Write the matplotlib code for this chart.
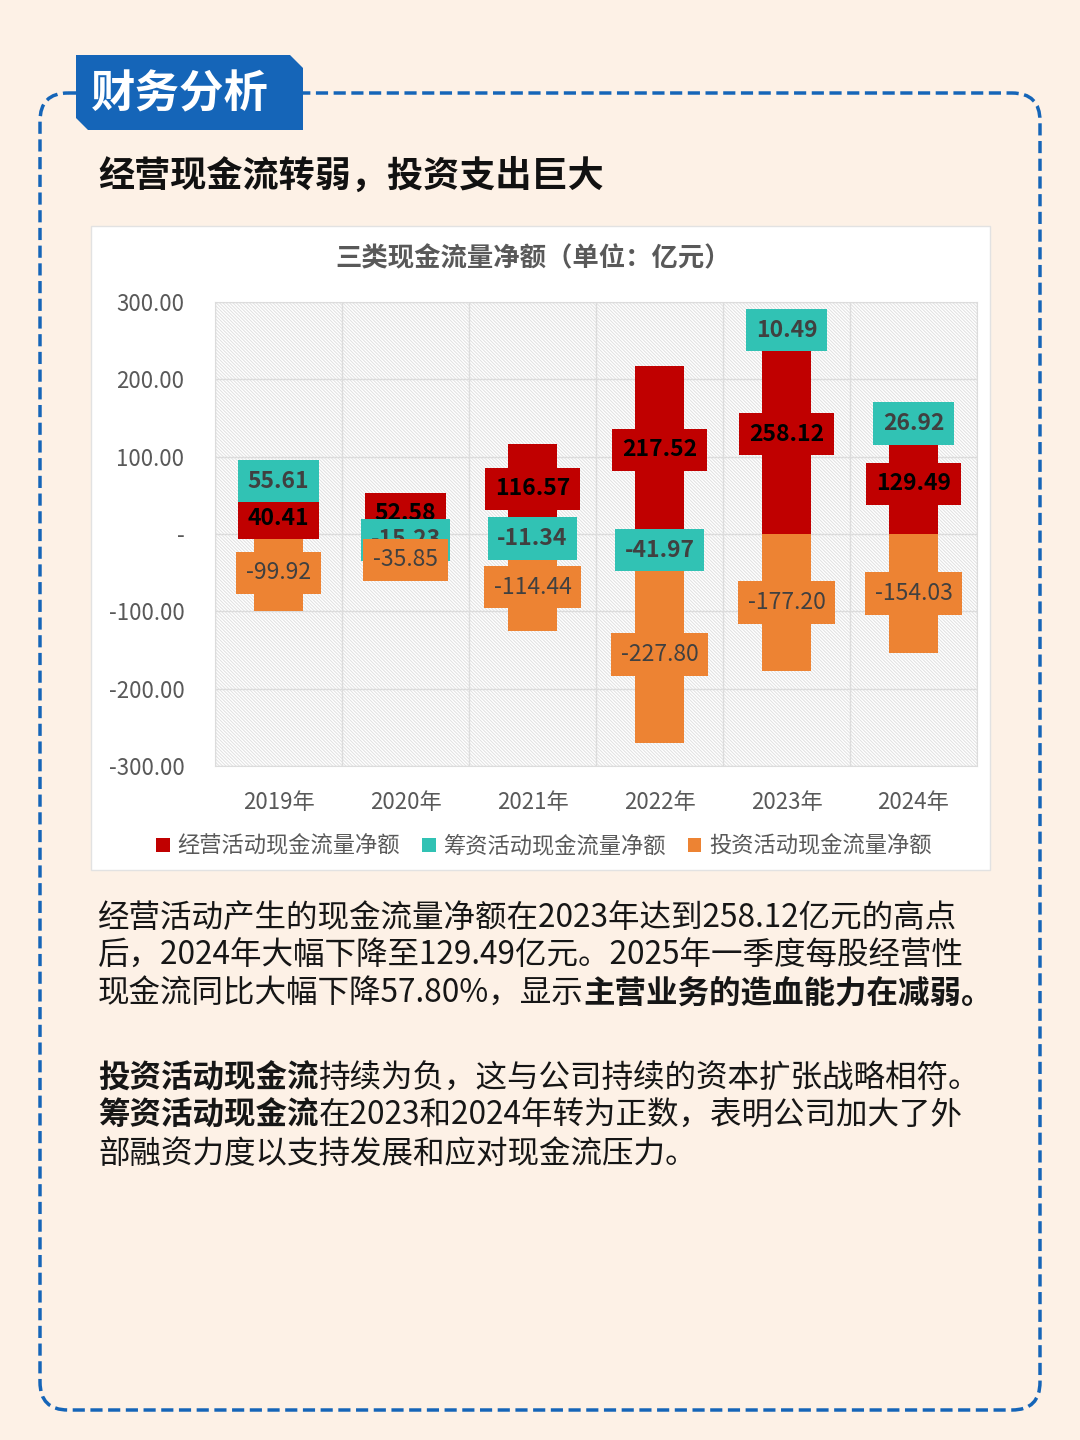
import matplotlib
matplotlib.use("Agg")
import matplotlib.pyplot as plt
import numpy as np
from matplotlib.patches import Rectangle, FancyBboxPatch, Polygon, Patch
from matplotlib.ticker import FuncFormatter, MultipleLocator

plt.rcParams["font.family"] = ["Noto Sans CJK SC", "DejaVu Sans"]
plt.rcParams["hatch.linewidth"] = 0.7

YEARS = ["2019年", "2020年", "2021年", "2022年", "2023年", "2024年"]
OPERATING = [40.41, 52.58, 116.57, 217.52, 258.12, 129.49]
FINANCING = [55.61, -15.23, -11.34, -41.97, 10.49, 26.92]
INVESTING = [-99.92, -35.85, -114.44, -227.80, -177.20, -154.03]
SERIES_NAMES = ["经营活动现金流量净额", "筹资活动现金流量净额", "投资活动现金流量净额"]
Y_TICKS = [-300, -200, -100, 0, 100, 200, 300]

PAGE_BG = "#FDF1E6"
BLUE = "#1565B8"
RED = "#C00000"
TEAL = "#31C2B4"
ORANGE = "#ED8333"
GRAY = "#595959"

W, H = 1080, 1440
fig = plt.figure(figsize=(W / 100, H / 100), dpi=100, facecolor=PAGE_BG)

# page layer in pixel coordinates
bg = fig.add_axes([0, 0, 1, 1], zorder=0)
bg.set_xlim(0, W)
bg.set_ylim(H, 0)
bg.axis("off")

bg.add_patch(FancyBboxPatch((40, 93), 1000, 1317,
                            boxstyle="round,pad=0,rounding_size=28",
                            fc="none", ec=BLUE, lw=2.5,
                            linestyle=(0, (3.5, 1.6))))
bg.add_patch(Polygon([(76, 55), (290, 55), (303, 68), (303, 130),
                      (88, 130), (76, 118)], closed=True, fc=BLUE, ec="none"))
bg.text(180, 94, "财务分析", fontsize=32, weight="bold", color="white",
        ha="center", va="center")
bg.text(98, 176, "经营现金流转弱，投资支出巨大", fontsize=26, weight="heavy",
        color="#111111", ha="left", va="center")

# chart card
bg.add_patch(Rectangle((91, 226), 899, 644, fc="white", ec="#E2E2E2", lw=1))
bg.text(533, 259, "三类现金流量净额（单位：亿元）", fontsize=19, weight="bold",
        color=GRAY, ha="center", va="center")

ax = fig.add_axes([215 / W, 1 - 766 / H, 762 / W, 464 / H], zorder=1)
ax.set_facecolor("none")
ax.add_patch(Rectangle((0, 0), 1, 1, transform=ax.transAxes, fc="white",
                       ec="#E0E0E0", lw=0, hatch="\\" * 10, zorder=0))

x = np.arange(len(YEARS))
series = [
    (OPERATING, RED, "black", "bold"),
    (FINANCING, TEAL, "#404040", "bold"),
    (INVESTING, ORANGE, "#404040", "normal"),
]
pos_base = np.zeros(len(YEARS))
neg_base = np.zeros(len(YEARS))
for k, (values, color, txt_color, weight) in enumerate(series):
    v = np.array(values)
    bottom = np.where(v >= 0, pos_base, neg_base)
    ax.bar(x, v, width=0.39, bottom=bottom, color=color, zorder=3)
    for xi, c, val in zip(x, bottom + v / 2, v):
        ax.text(xi, c, f"{val:.2f}", ha="center", va="center", fontsize=16.5,
                weight=weight, color=txt_color, zorder=5 + k,
                bbox=dict(boxstyle="square,pad=0.42", fc=color, ec="none"))
    pos_base += np.where(v >= 0, v, 0)
    neg_base += np.where(v < 0, v, 0)

ax.set_xlim(-0.5, len(YEARS) - 0.5)
ax.set_ylim(-300, 300)
ax.set_yticks(Y_TICKS)
ax.yaxis.set_major_formatter(FuncFormatter(lambda v, p: "-" if v == 0 else f"{v:.2f}"))
ax.set_xticks(x)
ax.set_xticklabels(YEARS)
ax.xaxis.set_minor_locator(MultipleLocator(1, offset=0.5))
ax.tick_params(axis="both", which="both", length=0, labelsize=16, labelcolor=GRAY)
ax.tick_params(axis="y", pad=22)
ax.tick_params(axis="x", pad=18)
ax.grid(True, axis="y", color="#DCDCDC", lw=1, zorder=1)
ax.grid(True, axis="x", which="minor", color="#DCDCDC", lw=1, zorder=1)
for s in ax.spines.values():
    s.set_color("#DCDCDC")

handles = [Patch(fc=c, ec="none") for c in (RED, TEAL, ORANGE)]
fig.legend(handles, SERIES_NAMES, loc="center", bbox_to_anchor=(544 / W, 1 - 846 / H),
           ncol=3, frameon=False, fontsize=16, labelcolor=GRAY,
           handlelength=0.6, handleheight=0.6, handletextpad=0.35, columnspacing=1.0)

# body text
renderer = fig.canvas.get_renderer()
LINES = [
    (917, [("经营活动产生的现金流量净额在2023年达到258.12亿元的高点", False)]),
    (955, [("后，2024年大幅下降至129.49亿元。2025年一季度每股经营性", False)]),
    (993, [("现金流同比大幅下降57.80%，显示", False), ("主营业务的造血能力在减弱。", True)]),
    (1078, [("投资活动现金流", True), ("持续为负，这与公司持续的资本扩张战略相符。", False)]),
    (1115, [("筹资活动现金流", True), ("在2023和2024年转为正数，表明公司加大了外", False)]),
    (1153, [("部融资力度以支持发展和应对现金流压力。", False)]),
]
for y, parts in LINES:
    xpos = 98
    for text, bold in parts:
        t = bg.text(xpos, y + 1, text, fontsize=22.7, weight="bold" if bold else "normal",
                    color="#161616", ha="left", va="center")
        xpos += t.get_window_extent(renderer).width

fig.savefig("out.png", dpi=100, facecolor=PAGE_BG)
